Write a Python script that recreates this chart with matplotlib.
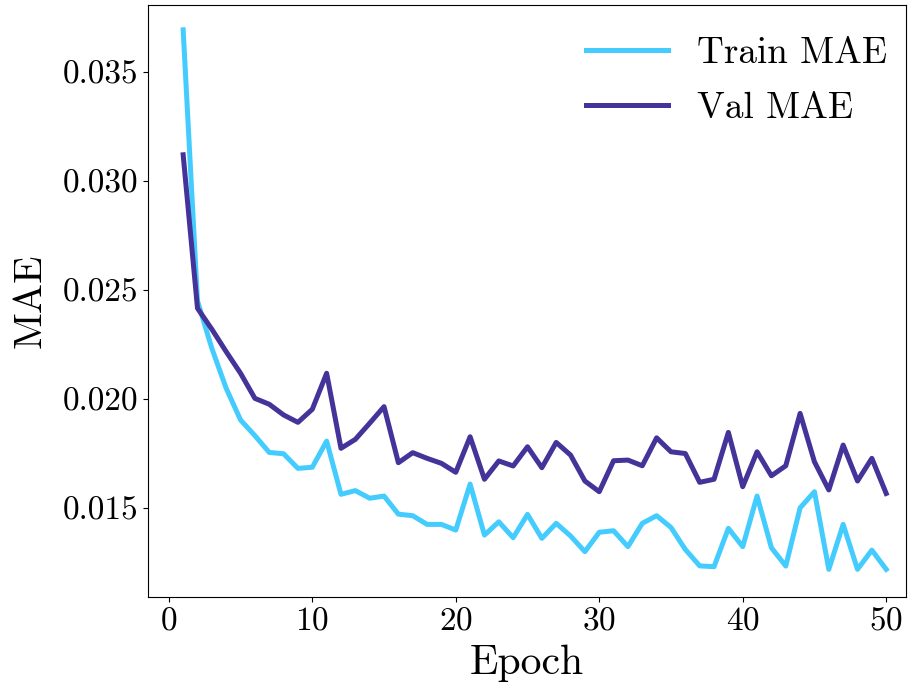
import matplotlib
matplotlib.use("Agg")
import matplotlib.pyplot as plt
import numpy as np

plt.rcParams['font.family'] = 'serif'
plt.rcParams['font.serif'] = ['cmr10']
plt.rcParams['mathtext.fontset'] = 'cm'
plt.rcParams['axes.unicode_minus'] = False
plt.rcParams['axes.formatter.use_mathtext'] = True

epochs = np.arange(1, 51)

train_mae = [
    0.03693, 0.02450, 0.02232, 0.02049, 0.01904, 0.01832, 0.01755, 0.01749, 0.01682, 0.01687,
    0.01807, 0.01563, 0.01580, 0.01545, 0.01555, 0.01472, 0.01465, 0.01425, 0.01425, 0.01399,
    0.01610, 0.01376, 0.01437, 0.01364, 0.01471, 0.01361, 0.01430, 0.01372, 0.01300, 0.01389,
    0.01396, 0.01323, 0.01430, 0.01465, 0.01411, 0.01310, 0.01235, 0.01231, 0.01407, 0.01323,
    0.01555, 0.01318, 0.01234, 0.01501, 0.01575, 0.01219, 0.01425, 0.01219, 0.01307, 0.01219,
]

val_mae = [
    0.03120, 0.02416, 0.02320, 0.02217, 0.02118, 0.02003, 0.01976, 0.01927, 0.01893, 0.01953,
    0.02118, 0.01774, 0.01815, 0.01889, 0.01965, 0.01708, 0.01754, 0.01728, 0.01705, 0.01664,
    0.01827, 0.01632, 0.01716, 0.01693, 0.01781, 0.01685, 0.01801, 0.01743, 0.01624, 0.01575,
    0.01717, 0.01720, 0.01694, 0.01822, 0.01758, 0.01750, 0.01618, 0.01632, 0.01847, 0.01598,
    0.01758, 0.01648, 0.01694, 0.01934, 0.01712, 0.01583, 0.01789, 0.01624, 0.01728, 0.01567,
]

fig = plt.figure(figsize=(9.17, 6.91), dpi=100)
ax = fig.add_axes([0.1614, 0.136, 0.8266, 0.8568])

ax.plot(epochs, train_mae, color='#44ccff', lw=3.6, label='Train MAE')
ax.plot(epochs, val_mae, color='#443399', lw=3.6, label='Val MAE')

ax.set_xlim(-1.45, 51.38)
ax.set_ylim(0.01092, 0.03807)
ax.set_xlabel('Epoch', fontsize=30, labelpad=6)
ax.set_ylabel('MAE', fontsize=29, labelpad=10)
ax.set_yticks([0.015, 0.020, 0.025, 0.030, 0.035])
ax.set_yticklabels(['0.015', '0.020', '0.025', '0.030', '0.035'])
ax.tick_params(labelsize=24)
ax.legend(fontsize=26.7, frameon=False, loc='upper right', handlelength=2.2,
          borderaxespad=0.1, bbox_to_anchor=(1.0, 0.978), labelspacing=0.6)

fig.savefig('out.png', dpi=100)
